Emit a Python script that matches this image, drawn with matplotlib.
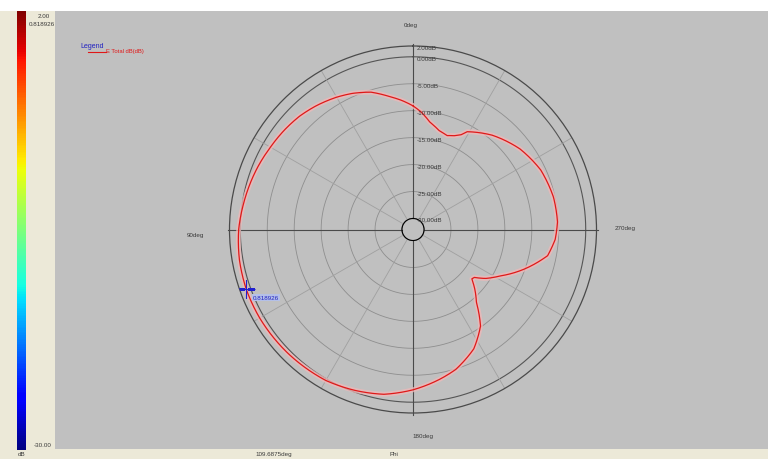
#!/usr/bin/env python3
"""Far-field cut of E Total (dB) drawn as a polar pattern with a dB colour scale."""
import matplotlib
matplotlib.use("Agg")
import matplotlib.pyplot as plt
import numpy as np
from matplotlib.colors import Normalize
from matplotlib.colorbar import ColorbarBase
from matplotlib.lines import Line2D
from matplotlib.patches import Rectangle

plt.rcParams["font.family"] = ["Liberation Sans", "DejaVu Sans"]

W, H = 768, 460

# pattern cut: phi in degrees (counter-clockwise from the top), E total in dB
phi_deg = [0, 5, 10, 17, 24, 30, 38, 45, 52, 60, 68, 75, 82, 90, 100, 110,
           120, 135, 150, 160, 170, 180, 190, 197, 207, 215, 221, 226, 230,
           232, 236, 242, 250, 259, 266, 273, 283, 295, 307, 320, 331, 333,
           336, 340, 345, 351, 356, 360]
e_total_db = [-9.1, -8.0, -7.0, -5.4, -4.4, -3.7, -2.9, -2.3, -1.9, -1.5,
              -1.0, -0.6, -0.2, 0.3, 0.65, 0.82, 0.8, 0.6, 0.3, -0.3, -1.0,
              -2.3, -3.8, -4.9, -7.2, -10.2, -14.1, -16.1, -17.8, -17.6,
              -15.8, -13.7, -10.3, -6.6, -5.6, -5.2, -5.3, -5.9, -7.2, -9.2,
              -11.3, -12.3, -13.0, -13.5, -13.1, -11.9, -10.2, -9.1]

ring_levels = [2, 0, -5, -10, -15, -20, -25, -30]
ring_labels = ["2.00dB", "0.00dB", "-5.00dB", "-10.00dB", "-15.00dB",
               "-20.00dB", "-25.00dB", "-30.00dB"]
spoke_deg = [30, 60, 120, 150, 210, 240, 300, 330]
axis_deg = [0, 90, 180, 270]
axis_labels = ["0deg", "90deg", "180deg", "270deg"]

db_min, db_max = -30.0, 2.0
peak_phi = 109.6875
peak_db = 0.818926

CREAM = "#ece9d8"
PLOT_GRAY = "#c0c0c0"
TXT = "#3a3a3a"


def fx(px):
    return px / W


def fy(py):
    return 1 - py / H


fig = plt.figure(figsize=(W / 100, H / 100), dpi=100)
fig.patch.set_facecolor("white")

# window panels: cream frame, gray plot area
fig.patches.append(Rectangle((0, 0), 1, fy(12), transform=fig.transFigure,
                             facecolor=CREAM, edgecolor="none", zorder=-10))
fig.patches.append(Rectangle((fx(55), fy(450)), 1 - fx(55), fy(12) - fy(450),
                             transform=fig.transFigure, facecolor=PLOT_GRAY,
                             edgecolor="none", zorder=-9))

# colour scale on the left
cax = fig.add_axes([fx(17), fy(451), fx(9), fy(12) - fy(451)])
cb = ColorbarBase(cax, cmap="jet", norm=Normalize(db_min, db_max))
cb.outline.set_visible(False)
cax.set_yticks([])
fig.text(fx(38), fy(16), f"{db_max:.2f}", fontsize=4.5, color=TXT, va="center")
fig.text(fx(29), fy(24), f"{peak_db:.6f}", fontsize=4.5, color=TXT, va="center")
fig.text(fx(34), fy(446), f"{db_min:.2f}", fontsize=4.5, color=TXT, va="center")
fig.text(fx(18), fy(455), "dB", fontsize=4.5, color=TXT, va="center")
fig.text(fx(255), fy(455), f"{peak_phi}deg", fontsize=4.5, color=TXT, va="center")
fig.text(fx(390), fy(455), "Phi", fontsize=4.5, color=TXT, va="center")

# polar axes centred at (413, 230.5) px with 183.5 px outer radius
cx, cy, R = 413, 230.5, 183.5
ax = fig.add_axes([fx(cx - R), fy(cy + R), fx(2 * R), fy(cy - R) - fy(cy + R)],
                  projection="polar")
ax.set_theta_zero_location("N")
ax.set_theta_direction(1)
ax.set_ylim(db_min, db_max)
ax.set_rorigin(db_min - 11 / 5.39)
ax.patch.set_alpha(0)
ax.grid(False)
ax.set_xticks([])
ax.set_yticks([])
for name, sp in ax.spines.items():
    sp.set_visible(name == "polar")
ax.spines["polar"].set_color("#4a4a4a")
ax.spines["polar"].set_linewidth(0.9)

full = np.linspace(0, 2 * np.pi, 721)
for lev in ring_levels[1:]:
    dark = lev in (0, -30)
    ax.plot(full, np.full_like(full, lev), color="#555555" if dark else "#8e8e8e",
            lw=0.8 if dark else 0.6, zorder=1)
for d in spoke_deg:
    ax.plot([np.radians(d)] * 2, [db_min, db_max], color="#a0a0a0", lw=0.6,
            zorder=1)
for d in axis_deg:
    ax.plot([np.radians(d)] * 2, [db_min, db_max + 0.3], color="#4a4a4a",
            lw=0.8, zorder=1, clip_on=False)

for lev, lab in zip(ring_levels, ring_labels):
    ax.annotate(lab, (0, lev), xytext=(4, -1.5), textcoords="offset pixels",
                fontsize=4.5, color=TXT, ha="left", va="center", zorder=6)

label_offsets = {0: (-2, 22), 90: (-34, -5), 180: (10, -23), 270: (29, 2)}
for d, lab in zip(axis_deg, axis_labels):
    ax.annotate(lab, (np.radians(d), db_max), xytext=label_offsets[d],
                textcoords="offset pixels", fontsize=4.5, color=TXT,
                ha="center", va="center", annotation_clip=False)

# the pattern, with its soft pink halo; segments follow the polar scale
th = np.radians(phi_deg)
halo, = ax.plot(th, e_total_db, color="#f0b8b8", lw=3.5, alpha=0.75, zorder=3,
                solid_capstyle="round", solid_joinstyle="round")
curve, = ax.plot(th, e_total_db, color="#e01818", lw=0.9, zorder=4,
                 solid_joinstyle="round")
for ln in (halo, curve):
    ln.get_path()._interpolation_steps = 30

# peak marker
ax.plot(np.radians(peak_phi), peak_db, marker="+", color="#2020d0",
        markersize=13, mew=0.8, zorder=5)
ax.annotate(f"{peak_db:.6f}", (np.radians(peak_phi), peak_db), xytext=(7, -8),
            textcoords="offset pixels", fontsize=4.5, color="#2020c0",
            ha="left", va="center", zorder=6,
            bbox=dict(boxstyle="square,pad=0.15", facecolor="#b4c0e8",
                      edgecolor="none"))

# legend
fig.text(fx(80), fy(46), "Legend", fontsize=5, color="#2020c0", va="center")
fig.add_artist(Line2D([fx(88), fx(106)], [fy(53), fy(53)], color="#e01818",
                      lw=0.8, transform=fig.transFigure))
fig.text(fx(106), fy(52), "E Total dB(dB)", fontsize=4.2, color="#e01818",
         va="center")

fig.savefig("out.png", dpi=100)
